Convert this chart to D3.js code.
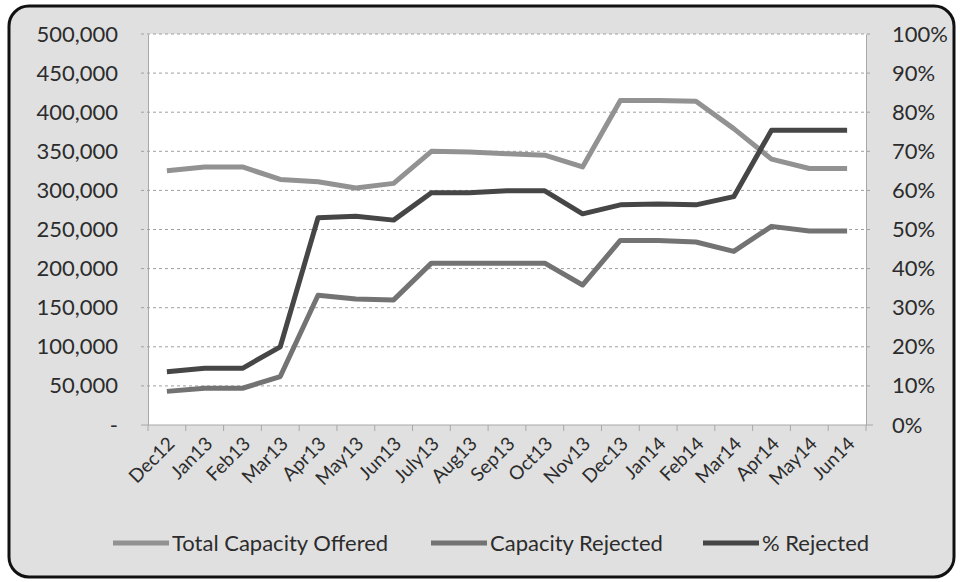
<!DOCTYPE html>
<html>
<head>
<meta charset="utf-8">
<script src="https://cdn.jsdelivr.net/npm/d3@7"></script>
<style>
  html, body { margin: 0; padding: 0; background: #ffffff; }
  svg { display: block; }
  text { font-family: Lato, "Open Sans", "Liberation Sans", sans-serif; fill: #2c2c2c; }
</style>
</head>
<body>
<svg id="chart" width="960" height="582"></svg>
<script>
// Monthly categories
const months = ["Dec12","Jan13","Feb13","Mar13","Apr13","May13","Jun13","July13","Aug13","Sep13",
  "Oct13","Nov13","Dec13","Jan14","Feb14","Mar14","Apr14","May14","Jun14"];

// Capacity offered per month
const totalOffered = [325000,330000,330000,314000,311000,303000,309000,350000,349000,347000,
  345000,330000,415000,415000,414000,379000,340000,328000,328000];

// Capacity rejected per month
const capacityRejected = [43000,47000,47000,62000,166000,161000,160000,207000,207000,207000,
  207000,179000,236000,236000,234000,222000,254000,248000,248000];

// Share of offered capacity that was rejected
const pctRejected = [0.136,0.145,0.145,0.200,0.530,0.534,0.524,0.594,0.594,0.599,
  0.599,0.540,0.563,0.565,0.563,0.584,0.754,0.754,0.754];

// Axis tick values
const leftTicks = [0,50000,100000,150000,200000,250000,300000,350000,400000,450000,500000];
const rightTicks = [0,0.1,0.2,0.3,0.4,0.5,0.6,0.7,0.8,0.9,1.0];

const seriesNames = ["Total Capacity Offered","Capacity Rejected","% Rejected"];
const seriesColors = ["#929292","#737373","#464646"];

const svg = d3.select("#chart");
const plot = { left: 148, right: 866, top: 34, bottom: 425 };

// Chart area with rounded border
svg.append("rect")
  .attr("x", 9).attr("y", 6).attr("width", 945).attr("height", 571)
  .attr("rx", 20).attr("ry", 20)
  .attr("fill", "#e0e0e0").attr("stroke", "#111").attr("stroke-width", 3);

// Plot area
svg.append("rect")
  .attr("x", plot.left).attr("y", plot.top)
  .attr("width", plot.right - plot.left).attr("height", plot.bottom - plot.top)
  .attr("fill", "#ffffff");

const x = d3.scaleBand().domain(months).range([plot.left, plot.right]).padding(0);
const cx = d => x(d) + x.bandwidth() / 2;
const yL = d3.scaleLinear().domain([0, 500000]).range([plot.bottom, plot.top]);
const yR = d3.scaleLinear().domain([0, 1]).range([plot.bottom, plot.top]);

// Gridlines
svg.append("g").selectAll("line")
  .data(leftTicks.filter(v => v > 0))
  .join("line")
  .attr("x1", plot.left - 7).attr("x2", plot.right + 7)
  .attr("y1", d => yL(d)).attr("y2", d => yL(d))
  .attr("stroke", "#a0a0a0").attr("stroke-width", 1)
  .attr("stroke-dasharray", "3,3");

// Left axis
const leftFmt = v => v === 0 ? "-" : d3.format(",")(v);
const gL = svg.append("g").attr("transform", `translate(${plot.left},0)`)
  .call(d3.axisLeft(yL).tickValues(leftTicks).tickFormat(leftFmt).tickSize(0).tickPadding(30));
gL.select(".domain").attr("stroke", "#a8a8a8");
gL.selectAll("text").style("font-size", "22px").attr("fill", "#2c2c2c")
  .style("font-family", "Lato, 'Open Sans', sans-serif");

// Right axis
const gR = svg.append("g").attr("transform", `translate(${plot.right},0)`)
  .call(d3.axisRight(yR).tickValues(rightTicks).tickFormat(d3.format(".0%")).tickSize(0).tickPadding(26));
gR.select(".domain").attr("stroke", "#a8a8a8");
gR.selectAll("text").style("font-size", "22px").attr("fill", "#2c2c2c")
  .style("font-family", "Lato, 'Open Sans', sans-serif");

// Bottom axis with ticks between categories
const gB = svg.append("g").attr("transform", `translate(0,${plot.bottom})`);
gB.append("line").attr("x1", plot.left - 7).attr("x2", plot.right + 7)
  .attr("stroke", "#a8a8a8").attr("stroke-width", 1);
gB.selectAll("line.tick")
  .data(months.concat(["end"]))
  .join("line").attr("class", "tick")
  .attr("x1", (d, i) => i < months.length ? x(d) : plot.right)
  .attr("x2", (d, i) => i < months.length ? x(d) : plot.right)
  .attr("y1", 0).attr("y2", 6)
  .attr("stroke", "#a8a8a8");
gB.selectAll("text")
  .data(months)
  .join("text")
  .attr("transform", d => `translate(${cx(d) + 9},${20}) rotate(-45)`)
  .attr("text-anchor", "end")
  .style("font-size", "19px")
  .text(d => d);

// Series lines
const lineL = d3.line().x((d, i) => cx(months[i])).y(d => yL(d));
const lineR = d3.line().x((d, i) => cx(months[i])).y(d => yR(d));
const lineG = svg.append("g").attr("fill", "none").attr("stroke-width", 5)
  .attr("stroke-linejoin", "round").attr("stroke-linecap", "butt");
lineG.append("path").attr("d", lineL(totalOffered)).attr("stroke", seriesColors[0]);
lineG.append("path").attr("d", lineL(capacityRejected)).attr("stroke", seriesColors[1]);
lineG.append("path").attr("d", lineR(pctRejected)).attr("stroke", seriesColors[2]);

// Legend
const legendItems = [
  { name: seriesNames[0], color: seriesColors[0], x: 113 },
  { name: seriesNames[1], color: seriesColors[1], x: 431 },
  { name: seriesNames[2], color: seriesColors[2], x: 703 }
];
const lg = svg.append("g").attr("transform", "translate(0,543)");
legendItems.forEach(it => {
  lg.append("line").attr("x1", it.x).attr("x2", it.x + 56)
    .attr("stroke", it.color).attr("stroke-width", 5);
  lg.append("text").attr("x", it.x + 59).attr("y", 0).attr("dy", "0.35em")
    .style("font-size", "22px").text(it.name);
});
</script>
</body>
</html>
